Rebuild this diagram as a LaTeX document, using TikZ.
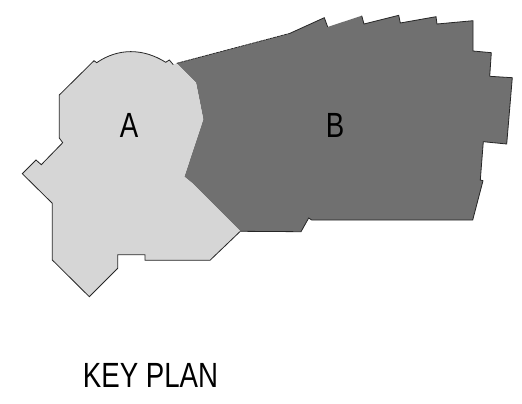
\documentclass[tikz,border=0pt]{standalone}
\usepackage{fontspec}
\setmainfont{Liberation Sans}
\newfontfamily\planfont[FakeStretch=0.79]{Liberation Sans}
\definecolor{zonea}{gray}{0.84}
\definecolor{zoneb}{gray}{0.44}
\definecolor{edge}{gray}{0.15}
\tikzset{
  zonefill/.style={line width=0pt},
  outline/.style={draw=edge,line width=0.8pt,line join=miter},
  dashedge/.style={draw=edge,line width=0.7pt,dash pattern=on 3pt off 0.7pt},
  planlabel/.style={font=\planfont\fontsize{35}{35}\selectfont,text=black,inner sep=0pt,anchor=base}
}
\begin{document}
\begin{tikzpicture}[x=1pt,y=-1pt]
\useasboundingbox (0,0) rectangle (522,404);
\fill[white] (0,0) rectangle (522,404);
\fill[zoneb,zonefill] (176.7,63.3) -- (290,33.3) -- (324.3,17.7) -- (327.7,27) -- (361.7,15.7) -- (364,24) -- (398.7,15.3) -- (400.3,23) -- (436,16.7) -- (437,24) -- (473,20.7) -- (473,51) -- (491.3,52.7) -- (489.7,76.3) -- (512.3,77.7) -- (506.7,144) -- (483.3,141.7) -- (480.3,180) -- (483,180.7) -- (472.7,220) -- (311.7,220) -- (308.7,218) -- (301,231.7) -- (240.3,231.3) -- (191.7,182.7) -- (184.3,176.7) -- (203.3,119.3) -- (196,82.7) -- cycle;
\fill[zonea,zonefill] (94,60.7) -- (96.7,62.7) .. controls (118,48) and (143,48) .. (165.7,62.3) -- (169.3,60) -- (173.3,64.7) -- (176.7,63.3) -- (196,82.7) -- (203.3,119.3) -- (184.3,176.7) -- (191.7,182.7) -- (240.3,231.3) -- (210,260.3) -- (145,260.3) -- (145,254.7) -- (117.7,254.7) -- (117.7,268.3) -- (89.3,296.7) -- (52.3,260) -- (52.3,203.3) -- (22.3,173.7) -- (36,160) -- (41.3,164.7) -- (62.7,142.7) -- (59.3,138) -- (59.3,95) -- cycle;
% outer outline, zone A
\draw[outline] (173.3,64.7) -- (169.3,60) -- (165.7,62.3) .. controls (143,48) and (118,48) .. (96.7,62.7) -- (94,60.7) -- (59.3,95) -- (59.3,138) -- (62.7,142.7) -- (41.3,164.7) -- (36,160) -- (22.3,173.7) -- (52.3,203.3) -- (52.3,260) -- (89.3,296.7) -- (117.7,268.3) -- (117.7,254.7) -- (145,254.7) -- (145,260.3) -- (210,260.3) -- (240.3,231.3);
% outer outline, zone B
\draw[dashedge] (176.7,63.3) -- (290,33.3);
\draw[outline] (290,33.3) -- (324.3,17.7) -- (327.7,27);
\draw[outline] (361.7,15.7) -- (364,24) -- (398.7,15.3) -- (400.3,23) -- (436,16.7) -- (437,24) -- (473,20.7) -- (473,51) -- (491.3,52.7) -- (489.7,76.3) -- (512.3,77.7) -- (506.7,144) -- (483.3,141.7) -- (480.3,180) -- (483,180.7) -- (472.7,220) -- (311.7,220) -- (308.7,218) -- (301,231.7) -- (240.3,231.3);
\node[planlabel] (labelA) at (129,137.3) {A};
\node[planlabel] (labelB) at (335,137) {B};
\node[planlabel] (title) at (150.5,387.7) {KEY PLAN};
\end{tikzpicture}
\end{document}
